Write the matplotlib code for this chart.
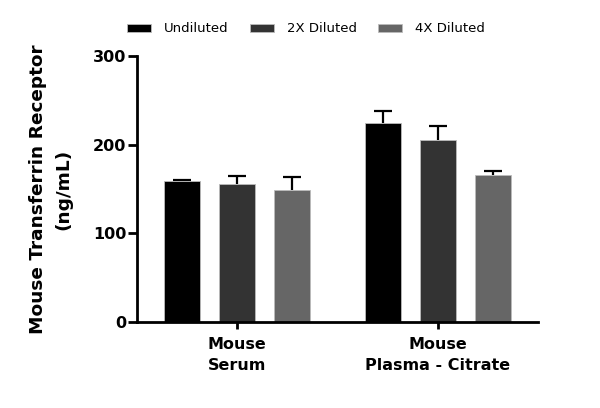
import matplotlib
matplotlib.use("Agg")
import matplotlib.pyplot as plt
import numpy as np

categories = ["Mouse\nSerum", "Mouse\nPlasma - Citrate"]
series = ["Undiluted", "2X Diluted", "4X Diluted"]
values = {
    "Undiluted": [159, 224],
    "2X Diluted": [155, 205],
    "4X Diluted": [148.5, 166],
}
errors = {
    "Undiluted": [1.5, 14],
    "2X Diluted": [10, 16],
    "4X Diluted": [15, 4],
}
colors = ["#000000", "#333333", "#666666"]
yticks = [0, 100, 200, 300]

plt.rcParams['font.family'] = ['DejaVu Sans']
fig = plt.figure(figsize=(6, 4.08), dpi=100)
ax = fig.add_axes([0.228, 0.211, 0.669, 0.652])

x = np.arange(len(categories))
width = 0.179
offsets = [-0.274, 0, 0.274]
handles = []
for s, off, c in zip(series, offsets, colors):
    b = ax.bar(x + off, values[s], width, color=c, edgecolor="#bbbbbb", linewidth=0.6, label=s, zorder=2)
    eb = ax.errorbar(x + off, values[s], yerr=[np.zeros(len(x)), errors[s]], fmt="none",
                     ecolor="black", elinewidth=1.6, capsize=6.5, capthick=1.6, zorder=1)
    eb[1][0].set_visible(False)
    handles.append(b)

ax.set_xlim(-0.5, 1.5)
ax.set_ylim(0, 300)
ax.set_yticks(yticks)
ax.set_xticks(x)
ax.set_xticklabels(categories, fontsize=11.5, fontweight="bold")
for lab in ax.get_xticklabels():
    lab.set_linespacing(1.5)
for lab in ax.get_yticklabels():
    lab.set_fontsize(11.5)
    lab.set_fontweight("bold")
ax.spines["top"].set_visible(False)
ax.spines["right"].set_visible(False)
ax.spines["left"].set_linewidth(2)
ax.spines["bottom"].set_linewidth(2)
ax.tick_params(axis="y", width=2, length=6.5, direction="out", pad=1)
ax.tick_params(axis="x", width=2, length=5, direction="out", pad=6)
ax.set_ylabel("Mouse Transferrin Receptor\n(ng/mL)", fontsize=13.3, fontweight="bold",
              labelpad=15, linespacing=1.5)

fig.legend(handles, series, loc="center", bbox_to_anchor=(0.51, 0.929), ncol=3, frameon=False,
           fontsize=9.5, handlelength=1.8, handleheight=0.5, columnspacing=1.6, handletextpad=1.0)

fig.savefig("out.png", dpi=100)
